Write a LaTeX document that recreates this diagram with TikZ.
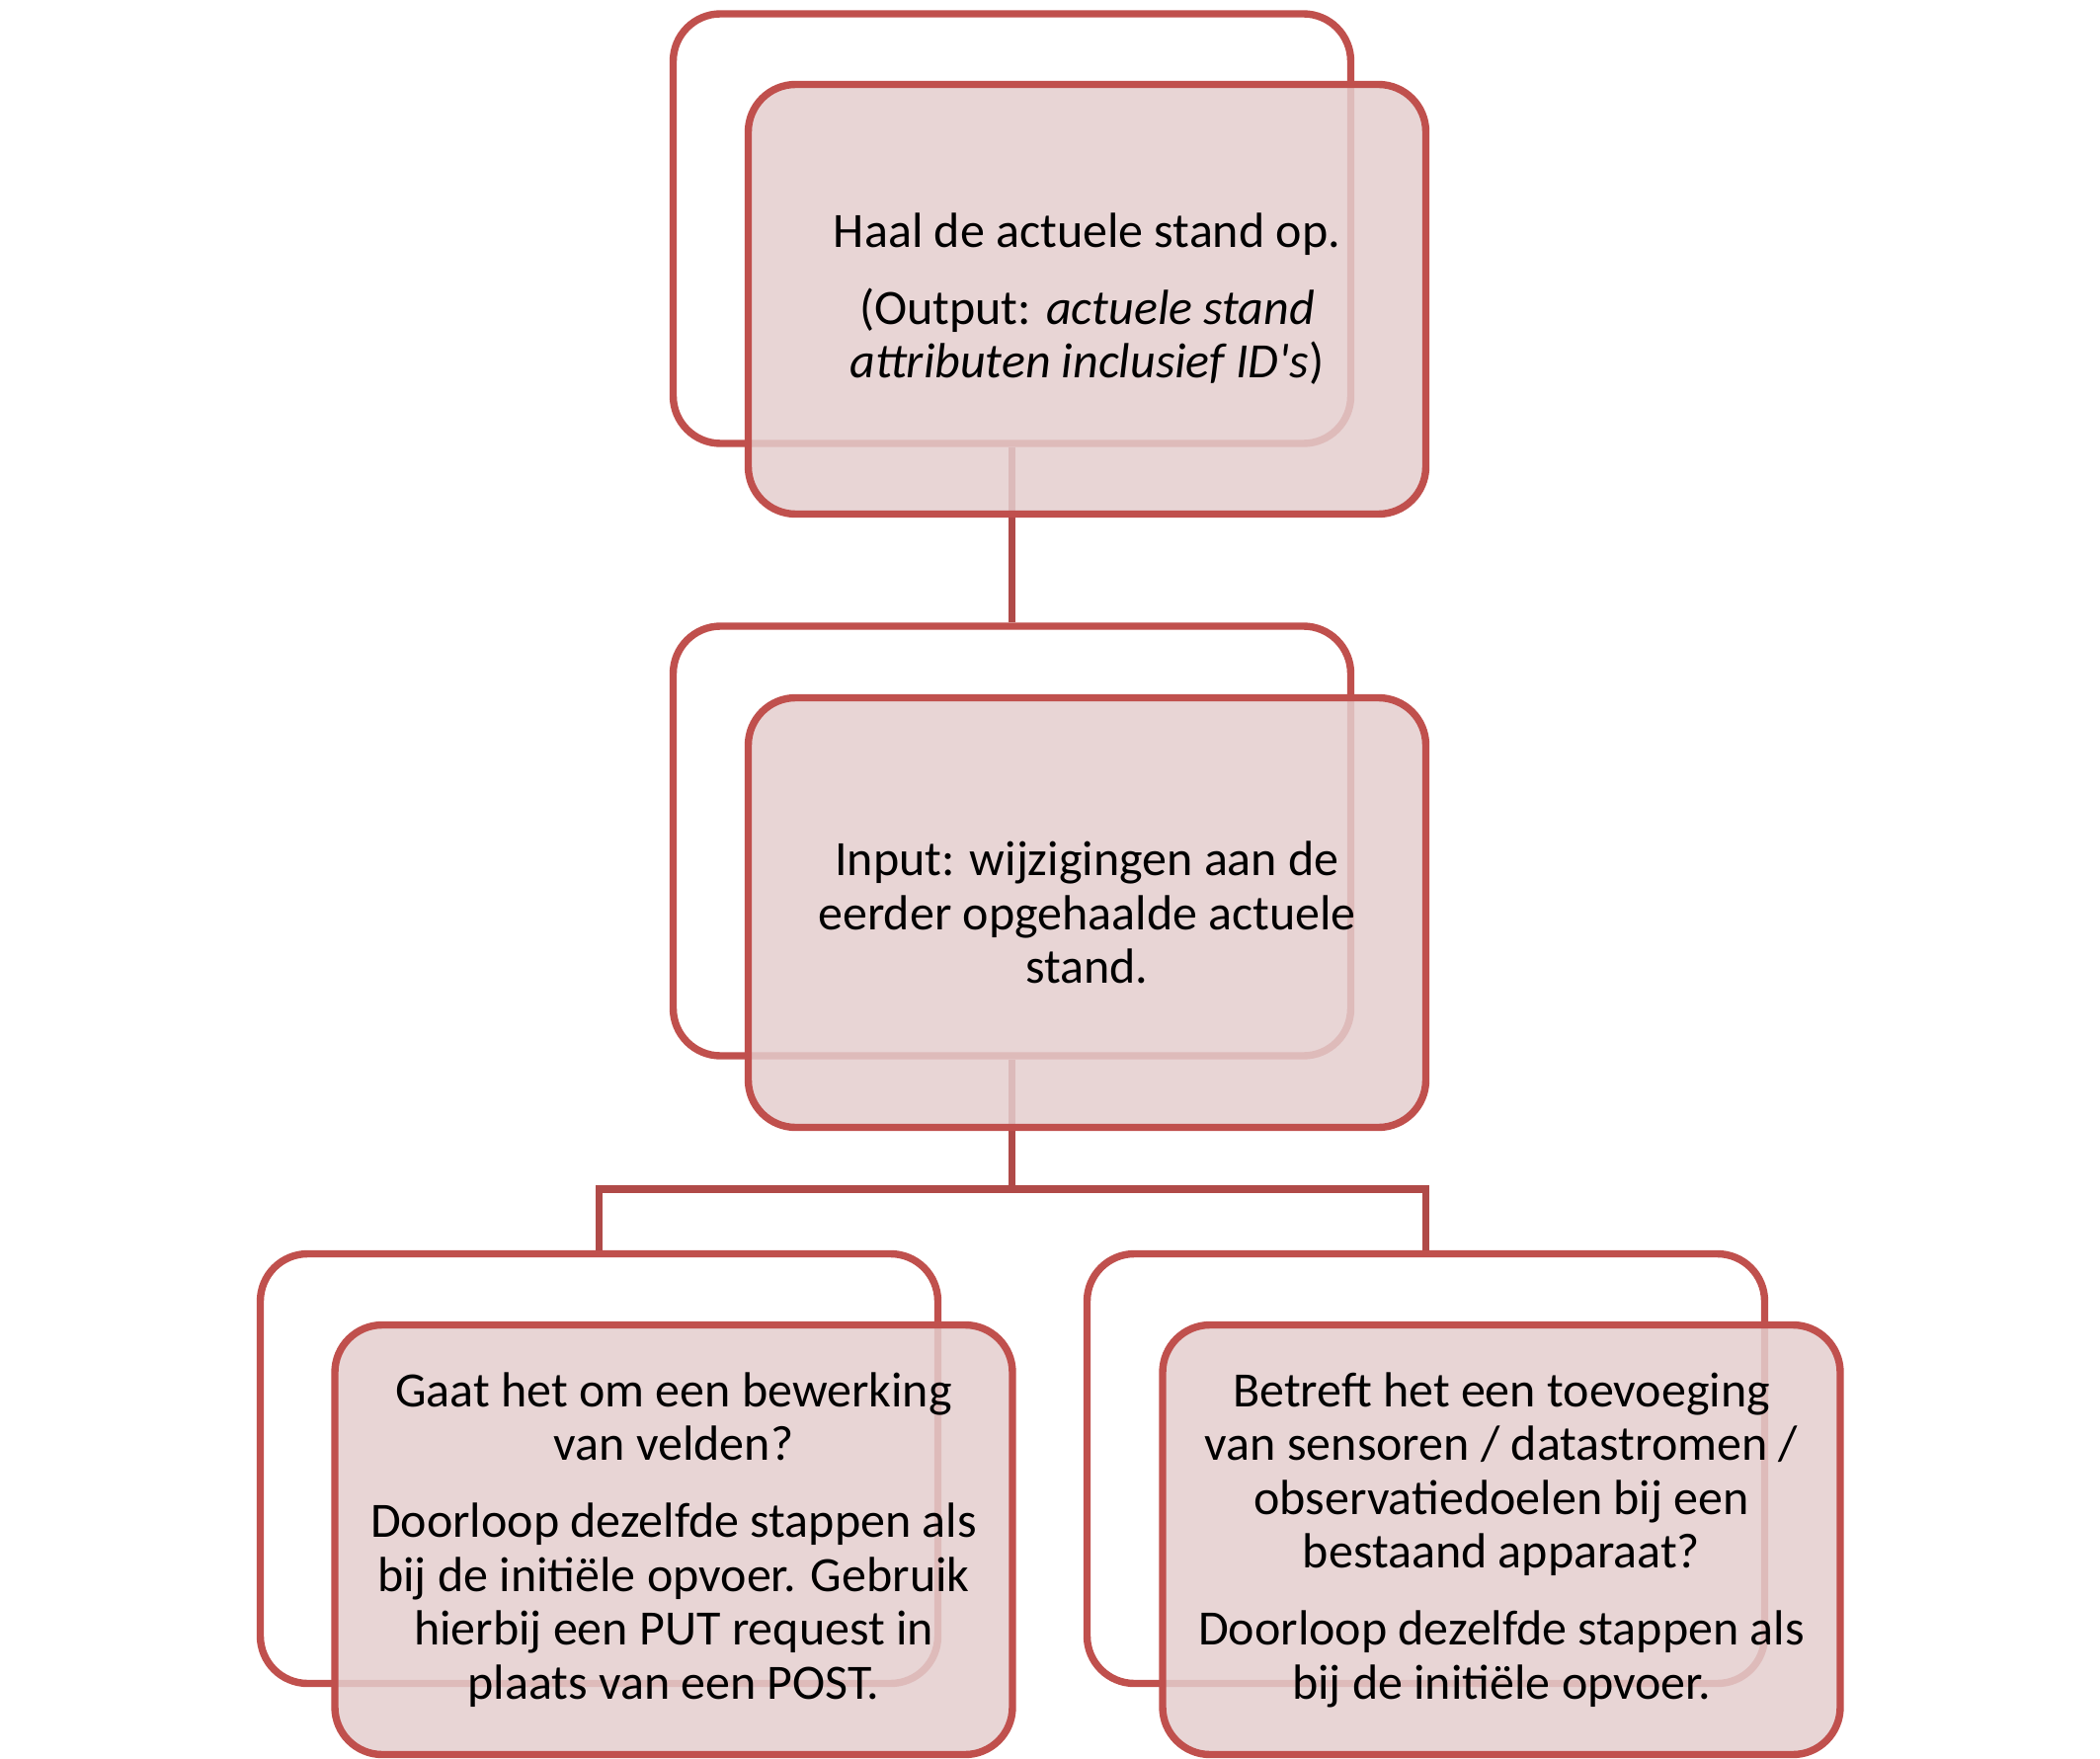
\documentclass[tikz,border=0pt]{standalone}
\usepackage{fontspec}
\setmainfont{Carlito}
\definecolor{boxred}{RGB}{192,80,77}
\definecolor{linkred}{RGB}{176,74,72}
\definecolor{boxfill}{RGB}{228,206,206}
\begin{document}
\begin{tikzpicture}[x=0.5pt,y=-0.5pt,
  box/.style={rounded corners=24pt, line width=3.7pt, draw=boxred,
    minimum width=343pt, minimum height=217.5pt, inner sep=0pt},
  backbox/.style={box},
  frontbox/.style={box, fill=boxfill, fill opacity=0.85, text opacity=1,
    align=center, font=\fontsize{25}{27.3}\selectfont},
  link/.style={draw=linkred, line width=3.7pt}]
\useasboundingbox (0,0) rectangle (2126,1781);
% back boxes
\node[backbox] (tb) at (1024.5,231.5) {};
\node[backbox] (mb) at (1024.5,851.5) {};
\node[backbox] (lb) at (606.5,1487) {};
\node[backbox] (rb) at (1443.5,1487) {};
% connectors
\coordinate (j) at (1024.5,1204);
\draw[link] (tb.south) -- (mb.north);
\draw[link] (mb.south) -- (j);
\draw[link] (j) -| (lb.north);
\draw[link] (j) -| (rb.north);
% front boxes
\node[frontbox] (tf) at (1100.5,303) {Haal de actuele stand op.\\[11.5pt]
  (Output: \textit{actuele stand}\\ \textit{attributen inclusief ID\textquotesingle s})};
\node[frontbox] (mf) at (1100.5,924) {Input: wijzigingen aan de\\
  eerder opgehaalde actuele\\ stand.};
\node[frontbox] (lf) at (682,1559) {Gaat het om een bewerking\\ van velden?\\[11.5pt]
  Doorloop dezelfde stappen als\\ bij de initiële opvoer. Gebruik\\
  hierbij een PUT request in\\ plaats van een POST.};
\node[frontbox] (rf) at (1520,1559) {Betreft het een toevoeging\\
  van sensoren / datastromen /\\ observatiedoelen bij een\\ bestaand apparaat?\\[11.5pt]
  Doorloop dezelfde stappen als\\ bij de initiële opvoer.};
\end{tikzpicture}
\end{document}
